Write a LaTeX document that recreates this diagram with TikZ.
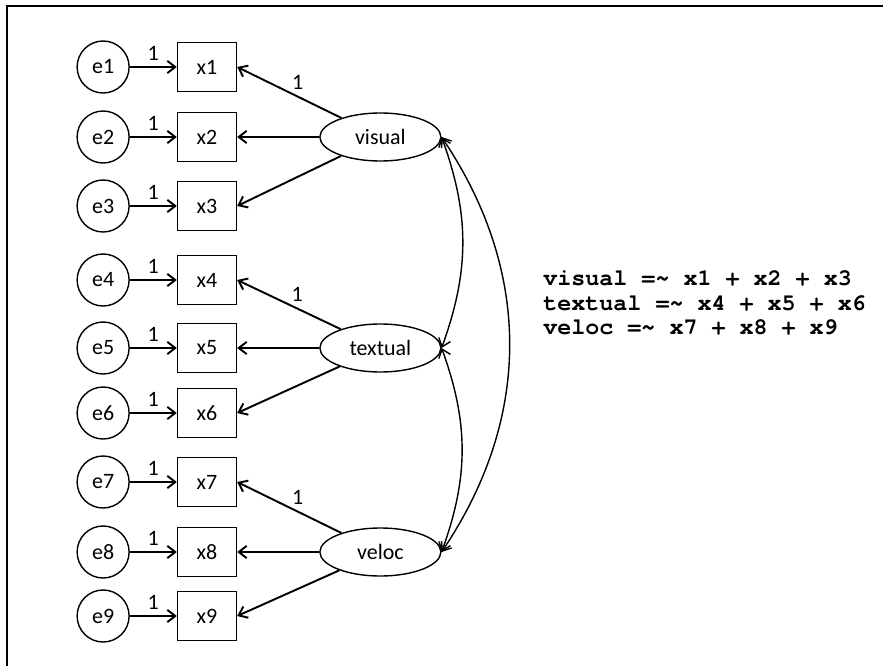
\documentclass[tikz,border=0pt]{standalone}
\usepackage{fontspec}
\setmainfont{Carlito}
\newfontfamily\codefont{TeX Gyre Cursor}
\usetikzlibrary{positioning,shapes.geometric,arrows.meta}

\begin{document}
\begin{tikzpicture}[x=0.02cm, y=-0.02cm, font=\fontsize{12.5}{14}\selectfont,
  obs/.style={rectangle, draw, thick, minimum width=1.18cm, minimum height=0.98cm},
  err/.style={circle, draw, thick, minimum size=1.04cm, inner sep=0pt},
  lat/.style={ellipse, draw, thick, minimum width=2.42cm, minimum height=0.96cm, inner sep=0pt},
  node distance=0.94cm, >={Straight Barb[length=4.5pt, width=7pt]}]
\useasboundingbox (0,0) rectangle (883,666);
\draw[line width=1.3pt] (7,666) -- (7,6) -- (883,6);

%Nodes
\node[obs] (x1) at (207,67) {x1};
\node[obs] (x2) at (207,137) {x2};
\node[obs] (x3) at (207,206) {x3};
\node[obs] (x4) at (207,280) {x4};
\node[obs] (x5) at (207,348) {x5};
\node[obs] (x6) at (207,413) {x6};
\node[obs] (x7) at (207,482) {x7};
\node[obs] (x8) at (207,552) {x8};
\node[obs] (x9) at (207,616) {x9};

\node[err] (e1) [left=of x1] {e1};
\node[err] (e2) [left=of x2] {e2};
\node[err] (e3) [left=of x3] {e3};
\node[err] (e4) [left=of x4] {e4};
\node[err] (e5) [left=of x5] {e5};
\node[err] (e6) [left=of x6] {e6};
\node[err] (e7) [left=of x7] {e7};
\node[err] (e8) [left=of x8] {e8};
\node[err] (e9) [left=of x9] {e9};

\node[lat] (visual) [right=1.64cm of x2] {visual};
\node[lat] (textual) [right=1.64cm of x5] {textual};
\node[lat] (veloc) [right=1.64cm of x8] {veloc};

\node[anchor=west, align=left, inner sep=0pt, font=\codefont\bfseries\fontsize{13.3}{13.9}\selectfont] (syntax) at (543,303)
  {visual =\textasciitilde{} x1 + x2 + x3\\textual =\textasciitilde{} x4 + x5 + x6\\veloc =\textasciitilde{} x7 + x8 + x9};

%Lines
\draw[->, line width=1.1pt] (e1) to node[above] {1} (x1);
\draw[->, line width=1.1pt] (e2) to node[above] {1} (x2);
\draw[->, line width=1.1pt] (e3) to node[above] {1} (x3);
\draw[->, line width=1.1pt] (e4) to node[above] {1} (x4);
\draw[->, line width=1.1pt] (e5) to node[above] {1} (x5);
\draw[->, line width=1.1pt] (e6) to node[above] {1} (x6);
\draw[->, line width=1.1pt] (e7) to node[above] {1} (x7);
\draw[->, line width=1.1pt] (e8) to node[above] {1} (x8);
\draw[->, line width=1.1pt] (e9) to node[above] {1} (x9);

\draw[->, line width=1.1pt] (visual) to node[above, pos=0.42] {1} (x1.east);
\draw[->, line width=1.1pt] (visual) to (x2);
\draw[->, line width=1.1pt] (visual) to (x3.east);
\draw[->, line width=1.1pt] (textual) to node[above, pos=0.42] {1} (x4.east);
\draw[->, line width=1.1pt] (textual) to (x5);
\draw[->, line width=1.1pt] (textual) to (x6.east);
\draw[->, line width=1.1pt] (veloc) to node[above, pos=0.42] {1} (x7.east);
\draw[->, line width=1.1pt] (veloc) to (x8);
\draw[->, line width=1.1pt] (veloc) to (x9.east);

\draw[<->, thick] (visual.east) to[out=-70, in=70] (textual.east);
\draw[<->, thick] (textual.east) to[out=-70, in=70] (veloc.east);
\draw[<->, thick] (visual.east) to[out=-56, in=56] (veloc.east);

\end{tikzpicture}
\end{document}
